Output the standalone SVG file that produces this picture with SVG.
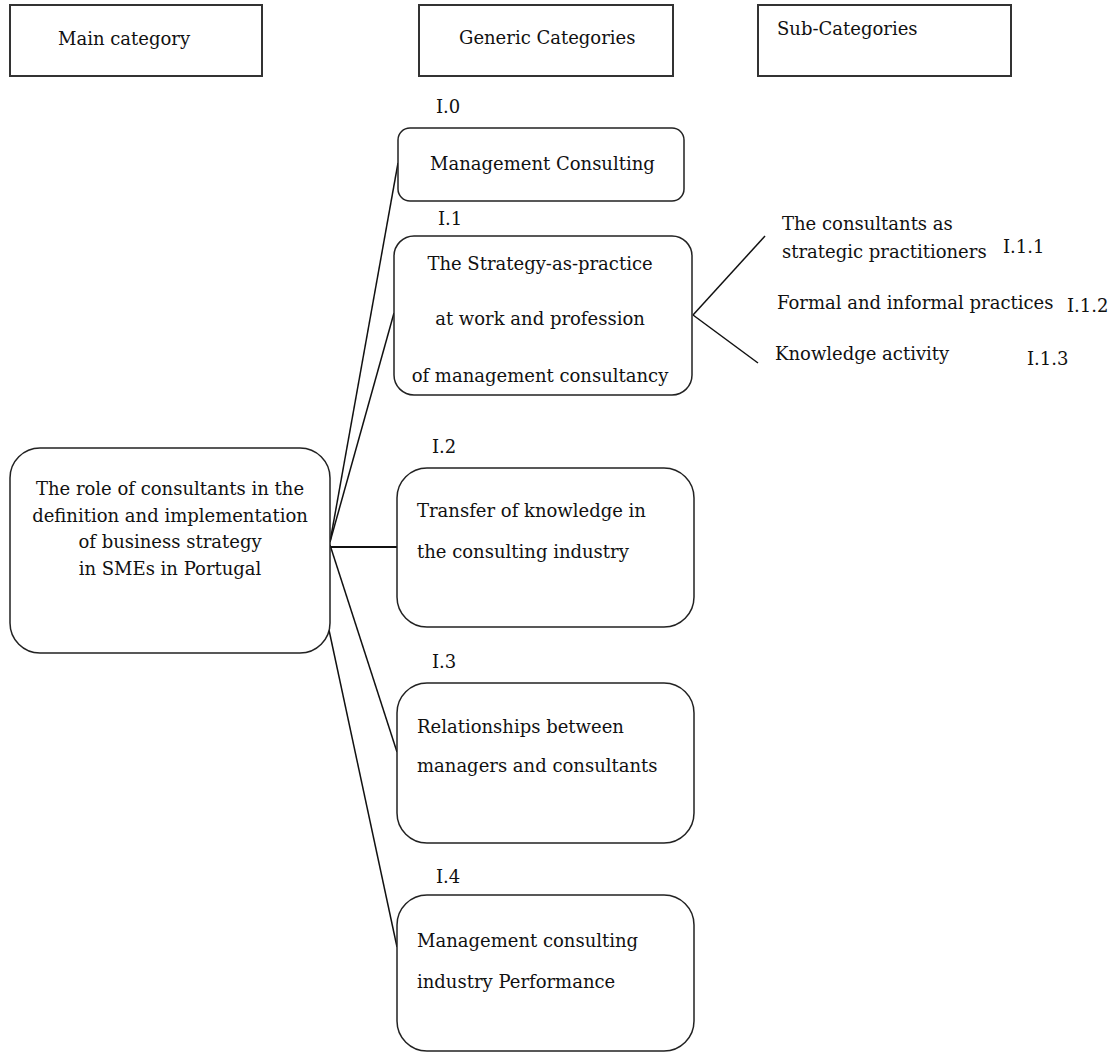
<svg xmlns="http://www.w3.org/2000/svg" width="1117" height="1054" viewBox="0 0 1117 1054">
<style>
text{font-family:"DejaVu Serif","Liberation Serif",serif;font-size:18px;fill:#111}
.hdr{fill:#fff;stroke:#333;stroke-width:2}
.box{fill:#fff;stroke:#222;stroke-width:1.5}
.c{text-anchor:middle}
#connectors line{stroke:#111;stroke-width:1.5}
</style>
<rect width="1117" height="1054" fill="#fff"/>
<g id="hdr-main"><rect class="hdr" x="10" y="5" width="252" height="71"/><text x="58" y="45">Main category</text></g>
<g id="hdr-generic"><rect class="hdr" x="419" y="5" width="254" height="71"/><text x="459" y="44">Generic Categories</text></g>
<g id="hdr-sub"><rect class="hdr" x="758" y="5" width="253" height="71"/><text x="777" y="35">Sub-Categories</text></g>

<g id="connectors">
<line x1="330" y1="542" x2="398" y2="163"/>
<line x1="330" y1="542" x2="394" y2="313"/>
<line x1="330" y1="547" x2="397" y2="547" style="stroke-width:2"/>
<line x1="330" y1="545" x2="397" y2="752"/>
<line x1="329" y1="630" x2="397" y2="947"/>
<line x1="693" y1="315" x2="765" y2="236"/>
<line x1="693" y1="315" x2="758" y2="363"/>
</g>

<g id="main"><rect class="box" x="10" y="448" width="320" height="205" rx="30"/>
<text class="c" x="170" y="495">The role of consultants in the</text>
<text class="c" x="170" y="522">definition and implementation</text>
<text class="c" x="170" y="548">of business strategy</text>
<text class="c" x="170" y="575">in SMEs in Portugal</text></g>

<g id="n-I0"><text x="436" y="113">I.0</text><rect class="box" x="398" y="128" width="286" height="73" rx="12"/>
<text x="430" y="170">Management Consulting</text></g>

<g id="n-I1"><text x="438" y="225">I.1</text><rect class="box" x="394" y="236" width="298" height="159" rx="20"/>
<text class="c" x="540" y="270">The Strategy-as-practice</text>
<text class="c" x="540" y="325">at work and profession</text>
<text class="c" x="540" y="382">of management consultancy</text></g>

<g id="n-I2"><text x="432" y="453">I.2</text><rect class="box" x="397" y="468" width="297" height="159" rx="30"/>
<text x="417" y="517">Transfer of knowledge in</text>
<text x="417" y="558">the consulting industry</text></g>

<g id="n-I3"><text x="432" y="668">I.3</text><rect class="box" x="397" y="683" width="297" height="160" rx="30"/>
<text x="417" y="733">Relationships between</text>
<text x="417" y="772">managers and consultants</text></g>

<g id="n-I4"><text x="436" y="883">I.4</text><rect class="box" x="397" y="895" width="297" height="156" rx="30"/>
<text x="417" y="947">Management consulting</text>
<text x="417" y="988">industry Performance</text></g>

<g id="s-I11"><text x="782" y="230">The consultants as</text><text x="782" y="258">strategic practitioners</text><text x="1003" y="253">I.1.1</text></g>
<g id="s-I12"><text x="777" y="309">Formal and informal practices</text><text x="1067" y="312">I.1.2</text></g>
<g id="s-I13"><text x="775" y="360">Knowledge activity</text><text x="1027" y="365">I.1.3</text></g>
</svg>
